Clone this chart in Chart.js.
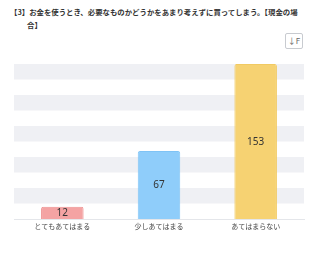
<!DOCTYPE html>
<html>
<head>
<meta charset="utf-8">
<script src="https://cdn.jsdelivr.net/npm/chart.js@4.4.0/dist/chart.umd.min.js"></script>
<style>
  html, body { margin: 0; padding: 0; background: #fff; }
  body { width: 335px; height: 255px; position: relative; overflow: hidden;
         font-family: "Noto Sans CJK JP", "Noto Sans", sans-serif; }
  #title { position: absolute; left: 10px; top: 6px; width: 290px; font-size: 7.4px;
           line-height: 12.5px; color: #333; font-weight: bold;
           padding-left: 17px; text-indent: -17px; box-sizing: border-box; }
  #sortBtn { position: absolute; left: 285px; top: 33px; width: 18px; height: 16px;
             border: 1px solid #c8cbd0; border-radius: 2px; box-sizing: border-box;
             font-size: 8px; line-height: 14px; text-align: center; color: #666; }
  #wrap { position: absolute; left: 0; top: 0; width: 335px; height: 255px; }
</style>
</head>
<body>
<div id="title">【3】お金を使うとき、必要なものかどうかをあまり考えずに買ってしまう。【現金の場合】</div>
<div id="sortBtn">↓F</div>
<div id="wrap"><canvas id="chart"></canvas></div>
<script>
// categories and counts
const categories = ['とてもあてはまる', '少しあてはまる', 'あてはまらない'];
const counts = [12, 67, 153];
const barColors = ['#f4a3a3', '#8fcdfa', '#f6d272'];
const borderColors = ['#ee8f8f', '#7fc3f5', '#f1ca62'];
const bandCount = 10;

/**
 * Alternate grey stripes behind the bars
 */
const stripePlugin = {
    id: 'stripes',
    beforeDatasetsDraw(chart) {
        const { ctx, chartArea, scales } = chart;
        const y = scales.y;
        const step = (y.max - y.min) / bandCount;
        ctx.save();
        ctx.fillStyle = '#eff0f4';
        for (let i = 0; i < bandCount; i++) {
            if (i % 2 !== 0) continue;
            const top = y.getPixelForValue(y.max - i * step);
            const bottom = y.getPixelForValue(y.max - (i + 1) * step);
            ctx.fillRect(chartArea.left, top, chartArea.right - chartArea.left, bottom - top);
        }
        ctx.restore();
    }
};

/**
 * Value labels in the middle of each bar
 */
const valueLabelPlugin = {
    id: 'valueLabels',
    afterDatasetsDraw(chart) {
        const { ctx } = chart;
        const meta = chart.getDatasetMeta(0);
        ctx.save();
        ctx.fillStyle = '#333';
        ctx.font = '10px "Noto Sans", sans-serif';
        ctx.textAlign = 'center';
        ctx.textBaseline = 'middle';
        meta.data.forEach((bar, i) => {
            const mid = (bar.y + bar.base) / 2;
            ctx.fillText(String(counts[i]), bar.x, mid + 0.5);
        });
        ctx.restore();
    }
};

const ctx = document.getElementById('chart').getContext('2d');

new Chart(ctx, {
    type: 'bar',
    data: {
        labels: categories,
        datasets: [{
            data: counts,
            backgroundColor: barColors,
            borderColor: borderColors,
            borderWidth: 1,
            borderRadius: 2,
            borderSkipped: 'bottom',
            barPercentage: 0.44,
            categoryPercentage: 1
        }]
    },
    options: {
        responsive: true,
        maintainAspectRatio: false,
        animation: false,
        layout: {
            padding: { top: 64, left: 14, right: 31, bottom: 21 }
        },
        scales: {
            y: {
                display: false,
                min: 0,
                max: 153
            },
            x: {
                grid: { display: false, drawTicks: false },
                border: { color: '#e4e6ea' },
                ticks: {
                    color: '#444',
                    padding: 4,
                    font: { size: 7, lineHeight: 1, family: '"Noto Sans CJK JP", sans-serif' }
                }
            }
        },
        plugins: {
            legend: { display: false },
            tooltip: { enabled: false }
        }
    },
    plugins: [stripePlugin, valueLabelPlugin]
});
</script>
</body>
</html>
